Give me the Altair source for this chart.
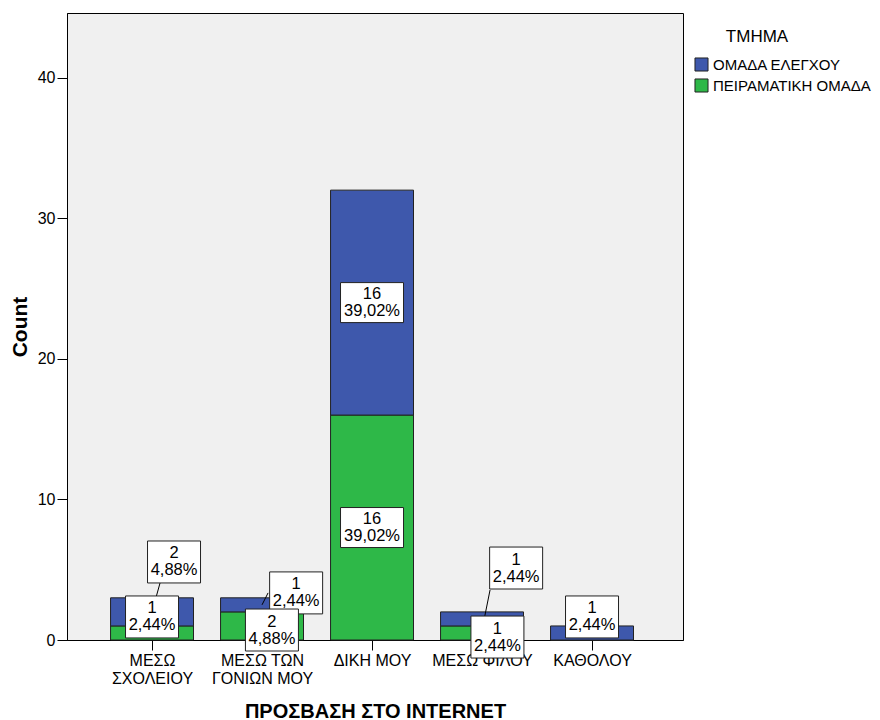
import json
import altair as alt
import pandas as pd

# ---- data ----
categories = ["ΜΕΣΩ ΣΧΟΛΕΙΟΥ", "ΜΕΣΩ ΤΩΝ ΓΟΝΙΩΝ ΜΟΥ", "ΔΙΚΗ ΜΟΥ", "ΜΕΣΩ ΦΙΛΟΥ", "ΚΑΘΟΛΟΥ"]
category_lines = [["ΜΕΣΩ", "ΣΧΟΛΕΙΟΥ"], ["ΜΕΣΩ ΤΩΝ", "ΓΟΝΙΩΝ ΜΟΥ"], ["ΔΙΚΗ ΜΟΥ"], ["ΜΕΣΩ ΦΙΛΟΥ"], ["ΚΑΘΟΛΟΥ"]]
groups = ["ΟΜΑΔΑ ΕΛΕΓΧΟΥ", "ΠΕΙΡΑΜΑΤΙΚΗ ΟΜΑΔΑ"]
legend_title = ["ΤΜΗΜΑ"]
control_counts = [2, 1, 16, 1, 1]
experimental_counts = [1, 2, 16, 1, 0]
total_n = 41
y_ticks = [0, 10, 20, 30, 40]

# label placement (annotation layout: offset in category units, centre in count units)
label_dx = {"ΟΜΑΔΑ ΕΛΕΓΧΟΥ": [0.2, 0.31, 0.0, 0.31, 0.0],
            "ΠΕΙΡΑΜΑΤΙΚΗ ΟΜΑΔΑ": [0.0, 0.09, 0.0, 0.14, 0.0]}
label_y = {"ΟΜΑΔΑ ΕΛΕΓΧΟΥ": [5.55, 3.35, 24.0, 5.12, 1.64],
           "ΠΕΙΡΑΜΑΤΙΚΗ ΟΜΑΔΑ": [1.64, 0.71, 8.0, 0.21, None]}
leader_x0 = [0.073, 1.055, 3.073]
leader_y0 = [4.06, 3.35, 3.56]
leader_x1 = [0.0, 1.0, 3.02]
leader_y1 = [2.0, 2.5, 1.5]

colors = ["#3E58AC", "#2EB848"]
FONT = "Liberation Sans"

rows = []
for i, c in enumerate(categories):
    for g, vals, order in [(groups[1], experimental_counts, 0), (groups[0], control_counts, 1)]:
        rows.append({"idx": i, "cat": c, "group": g, "count": vals[i], "order": order,
                     "x0": i - 0.377, "x1": i + 0.377})
bars_df = pd.DataFrame(rows)

lab_rows = []
for g, vals in [(groups[0], control_counts), (groups[1], experimental_counts)]:
    for i, v in enumerate(vals):
        if v == 0:
            continue
        pct = f"{v / total_n * 100:.2f}".replace(".", ",") + "%"
        lab_rows.append({"lx": i + label_dx[g][i], "ly": label_y[g][i],
                         "txt": f"{v}\n{pct}", "big": v >= 10})
lab_df = pd.DataFrame(lab_rows)

lead_df = pd.DataFrame({"x0": leader_x0, "y0": leader_y0, "x1": leader_x1, "y1": leader_y1})

xdom = [-0.773, 4.827]
ydom = [0, 44.6]
label_expr = json.dumps(category_lines, ensure_ascii=False) + "[datum.value]"

xscale = alt.Scale(domain=xdom, nice=False, zero=False)
yscale = alt.Scale(domain=ydom, nice=False)

bars = alt.Chart(bars_df).transform_stack(
    stack="count", groupby=["idx"], as_=["s0", "s1"], sort=[alt.SortField("order")]
).mark_rect(stroke="#222222", strokeWidth=1).encode(
    x=alt.X("x0:Q", scale=xscale,
            axis=alt.Axis(values=[0, 1, 2, 3, 4], labelExpr=label_expr, grid=False,
                          title="ΠΡΟΣΒΑΣΗ ΣΤΟ INTERNET", tickSize=10, labelPadding=2,
                          labelLineHeight=18, labelFontSize=16, labelFont=FONT,
                          titleFont=FONT, titleFontSize=20, titleFontWeight="bold",
                          titlePadding=15, domainColor="black", tickColor="black",
                          labelColor="black", titleColor="black")),
    x2="x1:Q",
    y=alt.Y("s0:Q", scale=yscale,
            axis=alt.Axis(values=y_ticks, grid=False, title="Count", tickSize=10,
                          labelPadding=2, labelFontSize=16, labelFont=FONT,
                          titleFont=FONT, titleFontSize=21, titleFontWeight="bold",
                          titlePadding=7, domainColor="black", tickColor="black",
                          labelColor="black", titleColor="black")),
    y2="s1:Q",
    color=alt.Color("group:N", scale=alt.Scale(domain=groups, range=colors),
                    legend=alt.Legend(title="", orient="none", legendX=627, legendY=44,
                                      symbolType="square", symbolSize=170,
                                      symbolStrokeColor="#222222", symbolStrokeWidth=1,
                                      symbolOpacity=1, labelFont=FONT, labelFontSize=15,
                                      rowPadding=2, labelOffset=4, labelLimit=300,
                                      labelColor="black")),
)

title_txt = alt.Chart(pd.DataFrame({"t": legend_title})).mark_text(
    font=FONT, fontSize=17, color="black", align="center", baseline="middle"
).encode(x=alt.value(690), y=alt.value(24), text="t:N")

leaders = alt.Chart(lead_df).mark_rule(color="black", strokeWidth=1).encode(
    x=alt.X("x0:Q", scale=xscale), y=alt.Y("y0:Q", scale=yscale),
    x2="x1:Q", y2="y1:Q")

small_box = "M-1,-0.792L1,-0.792L1,0.792L-1,0.792Z"
big_box = "M-1,-0.635L1,-0.635L1,0.635L-1,0.635Z"

boxes_small = alt.Chart(lab_df).transform_filter("!datum.big").mark_point(
    shape=small_box, size=53 * 53, filled=True, fill="white", stroke="#222222",
    strokeWidth=1, opacity=1).encode(
    x=alt.X("lx:Q", scale=xscale), y=alt.Y("ly:Q", scale=yscale))
boxes_big = alt.Chart(lab_df).transform_filter("datum.big").mark_point(
    shape=big_box, size=63 * 63, filled=True, fill="white", stroke="#222222",
    strokeWidth=1, opacity=1).encode(
    x=alt.X("lx:Q", scale=xscale), y=alt.Y("ly:Q", scale=yscale))

texts = alt.Chart(lab_df).mark_text(
    font=FONT, fontSize=16.5, lineHeight=17, lineBreak="\n", color="black",
    align="center", baseline="middle", dy=-8.5).encode(
    x=alt.X("lx:Q", scale=xscale), y=alt.Y("ly:Q", scale=yscale), text="txt:N")

chart = alt.layer(bars, leaders, boxes_small, boxes_big, texts, title_txt).properties(
    width=616, height=627,
    autosize=alt.AutoSizeParams(type="none"),
    padding={"left": 67, "top": 13, "right": 197, "bottom": 80},
    background="white",
).configure_view(fill="#F0F0F0", stroke="black", strokeWidth=1)

chart.save("out.html", embed_options={"renderer": "svg", "actions": False})
